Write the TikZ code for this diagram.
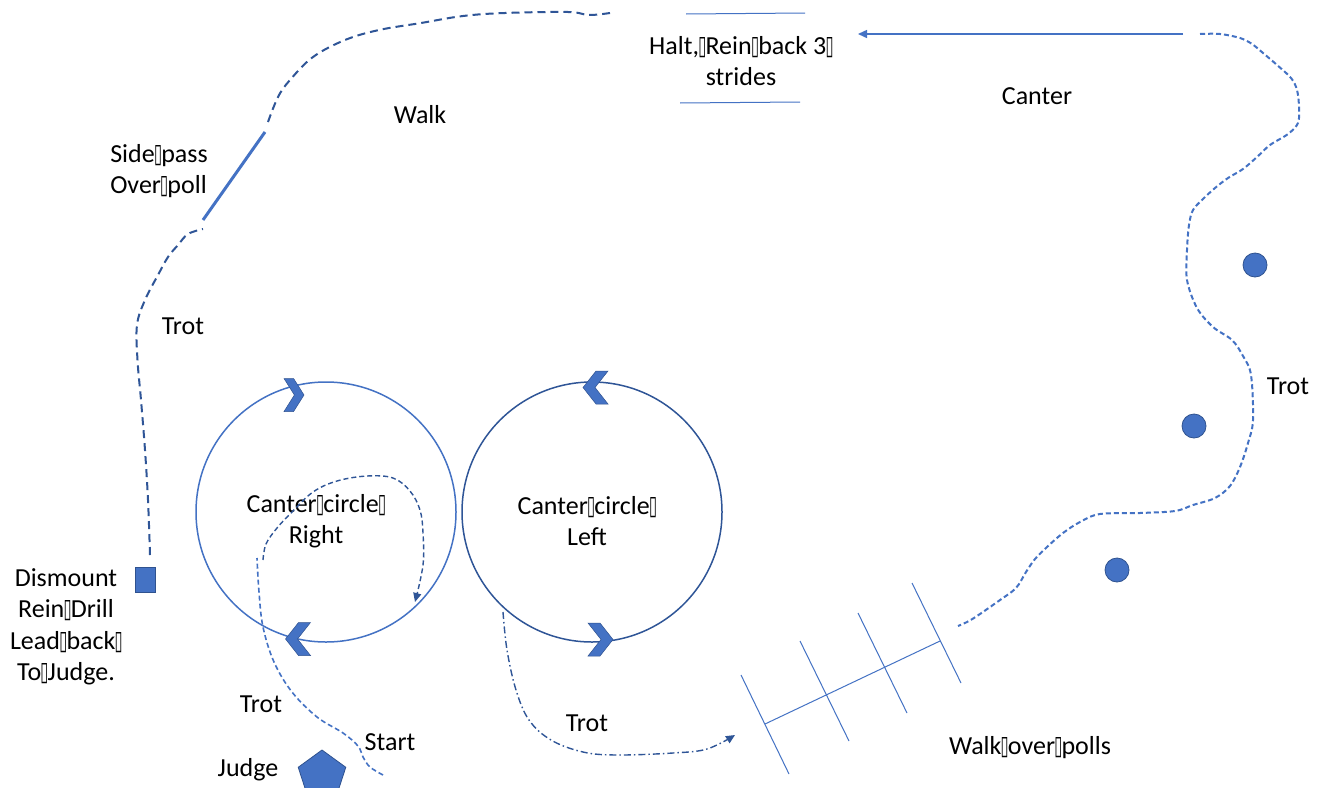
\documentclass[tikz,border=0pt]{standalone}
\usepackage{fontspec}
\setmainfont{Carlito}
\newfontfamily\dejavu{DejaVu Sans}
\usepackage{graphicx}
\usetikzlibrary{arrows.meta,shapes.geometric}
\definecolor{accent}{HTML}{4472C4}
\definecolor{deepblue}{HTML}{2F5597}
\definecolor{edgeblue}{HTML}{2F528F}
\newcommand\tofu{\makebox[6.5pt]{\resizebox{8pt}{17pt}{\dejavu\fontsize{20}{20}\selectfont ▯}}}
\begin{document}
\begin{tikzpicture}[x=1pt,y=-1pt,
  lbl/.style={font=\fontsize{26}{31.5}\selectfont, inner sep=0pt, align=center, text=black},
  toppath/.style={draw=deepblue, line width=2pt, dash pattern=on 8pt off 5pt},
  rightpath/.style={draw=accent, line width=2pt, dash pattern=on 5pt off 3pt},
  trotpath/.style={draw=accent, line width=1.6pt, dash pattern=on 5pt off 3pt},
  innerpath/.style={draw=deepblue, line width=1.4pt, dash pattern=on 5pt off 3pt},
  dotdash/.style={draw=deepblue, line width=1.4pt, dash pattern=on 7pt off 3pt on 1.5pt off 3pt},
  thin/.style={draw=accent, line width=1pt},
  cone/.style={circle, fill=accent, draw=edgeblue, line width=0.8pt, minimum size=24pt, inner sep=0pt},
  tip/.style={-{Triangle[length=9pt,width=8pt]}},
  chev/.pic={\fill[accent, draw=edgeblue, line width=0.5pt] (-12.5,-16.5) -- (-0.5,-16.5) -- (12.5,0) -- (-0.5,16.5) -- (-12.5,16.5) -- (0.5,0) -- cycle;}
]
\useasboundingbox (0,0) rectangle (1321,787);
\fill[white] (0,0) rectangle (1321,787);

% circles
\node[circle, draw=accent, line width=1.5pt, minimum size=260pt, inner sep=0pt] (rcirc) at (326,512) {};
\node[circle, draw=deepblue, line width=1.5pt, minimum size=260pt, inner sep=0pt] (lcirc) at (592,512) {};
\pic[xscale=0.8] at (294,395) {chev};
\pic[xscale=-1] at (298,639) {chev};
\pic[xscale=-1] at (595.5,387.5) {chev};
\pic at (600.5,639.5) {chev};

% labels
\node[lbl, align=left] (sidepass) at (159,171) {Side\tofu pass\\Over\tofu poll};
\node[lbl] (walk) at (420,115) {Walk};
\node[lbl] (halt) at (741,61) {Halt,\tofu Rein\tofu back 3\tofu\\strides};
\node[lbl] (canter) at (1037,96) {Canter};
\node[lbl] (trotl) at (183,326) {Trot};
\node[lbl] (trotr) at (1288,386) {Trot};
\node[lbl] (ccr) at (316,521) {Canter\tofu circle\tofu\\Right};
\node[lbl] (ccl) at (587,521) {Canter\tofu circle\tofu\\Left};
\node[lbl] (dismount) at (66,627) {Dismount\\Rein\tofu Drill\\Lead\tofu back\tofu\\To\tofu Judge.};
\node[lbl] (trotb) at (261,704) {Trot};
\node[lbl] (start) at (390,742) {Start};
\node[lbl] (judgel) at (248,770) {Judge};
\node[lbl] (trotc) at (587,723) {Trot};
\node[lbl] (wop) at (1030,748) {Walk\tofu over\tofu polls};

% markers
\node[rectangle, fill=accent, draw=edgeblue, line width=0.8pt, minimum width=20pt, minimum height=25pt, inner sep=0pt] (square) at (145,579.5) {};
\node[regular polygon, regular polygon sides=5, fill=accent, draw=edgeblue, line width=0.8pt, minimum size=50pt, inner sep=0pt] (judge) at (322,775) {};
\node[cone] (cone1) at (1255,265) {};
\node[cone] (cone2) at (1194,426) {};
\node[cone] (cone3) at (1117,570) {};

% halt lines
\coordinate (h1a) at (686,14); \coordinate (h1b) at (805,13);
\coordinate (h2a) at (680,103); \coordinate (h2b) at (800,102);
\draw[thin] (h1a) -- (h1b);
\draw[thin] (h2a) -- (h2b);

% top path
\coordinate (tA) at (150,555);
\coordinate (tB) at (203,229);
\draw[toppath] plot[smooth, tension=0.6] coordinates {(tA) (148,500) (145,450) (141,400) (137.5,360) (137,325) (145,300) (158,275) (168,257) (178,245) (188,234) (tB)};
\coordinate (sp1) at (203,220); \coordinate (sp2) at (265,132);
\draw[accent, line width=3pt] (sp1) -- (sp2);
\coordinate (tC) at (268,122);
\coordinate (tD) at (610,13);
\draw[toppath] plot[smooth, tension=0.6] coordinates {(tC) (278,97) (290,80) (313,57) (345,40) (379,30) (421,23) (463,16) (505,13) (568,12) (589,15) (tD)};

% canter arrow
\coordinate (ca1) at (1183,34);
\coordinate (ca2) at (858,34);
\draw[accent, line width=1.5pt, tip] (ca1) -- (ca2);

% right path
\coordinate (rp1) at (1200,34);
\coordinate (rp2) at (958,626);
\draw[rightpath] plot[smooth, tension=0.55] coordinates {(rp1) (1220,34) (1240,38) (1252,44) (1263,53) (1277,65) (1291,78) (1297,90) (1299,107) (1298,123) (1288,134) (1270,145) (1257,157) (1243,169) (1228,178) (1215,188) (1203,199) (1193,210) (1189,225) (1187,250) (1187,280) (1197,308) (1213,327) (1232,340) (1243,356) (1251,375) (1253,420) (1248,443) (1240,467) (1230,486) (1215,498) (1193,505) (1175,511) (1140,513) (1100,514) (1080,522) (1063,533) (1047,547) (1035,559) (1026,572) (1016,588) (1000,600) (977,616) (967,622) (rp2)};

% trot path from start
\coordinate (sA) at (383,775);
\coordinate (sB) at (257,558);
\draw[trotpath] plot[smooth, tension=0.6] coordinates {(sA) (370,767) (363,757) (358,746) (343,733) (317,717) (292,692) (274,662) (263,627) (259,592) (sB)};

% canter right inner path
\coordinate (iA) at (263,560);
\coordinate (iB) at (415,602);
\draw[innerpath, tip] plot[smooth, tension=0.6] coordinates {(iA) (266,544) (277,528) (292,512) (313,492) (337,481) (367,476) (393,478) (410,491) (420,510) (423,533) (423,565) (iB)};

% trot from left circle to poles
\coordinate (dA) at (503,612);
\coordinate (dB) at (735,735);
\draw[dotdash, tip] plot[smooth, tension=0.6] coordinates {(dA) (507,650) (516,690) (529,720) (551,740) (583,752) (617,755) (673,753) (707,749) (dB)};

% poles
\coordinate (m1) at (765,724); \coordinate (m2) at (940,641);
\draw[thin] (m1) -- (m2);
\coordinate (p1a) at (741,675); \coordinate (p1b) at (789,774);
\coordinate (p2a) at (800,641); \coordinate (p2b) at (849,741);
\coordinate (p3a) at (858,613); \coordinate (p3b) at (907,713);
\coordinate (p4a) at (912,583); \coordinate (p4b) at (961,683);
\draw[thin] (p1a) -- (p1b);
\draw[thin] (p2a) -- (p2b);
\draw[thin] (p3a) -- (p3b);
\draw[thin] (p4a) -- (p4b);
\end{tikzpicture}
\end{document}
